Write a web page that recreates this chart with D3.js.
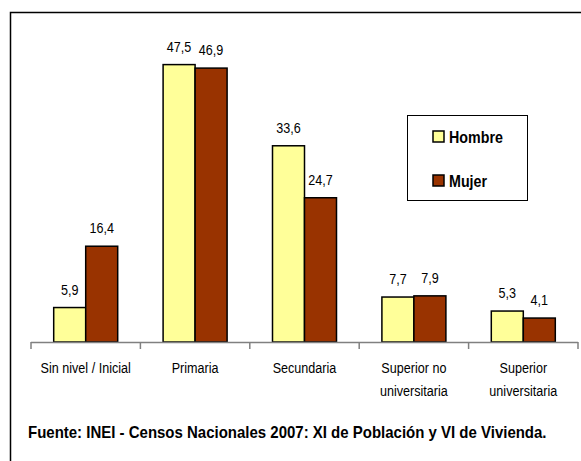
<!DOCTYPE html>
<html>
<head>
<meta charset="utf-8" />
<script src="https://cdn.jsdelivr.net/npm/d3@7"></script>
<style>
  body { margin: 0; background: #fff; }
  svg { display: block; }
  text { font-family: "Liberation Sans Narrow", "Arial Narrow", "Liberation Sans", Arial, sans-serif; fill: #000; }
  .bold { font-weight: bold; }
</style>
</head>
<body>
<svg id="chart" width="581" height="461"></svg>
<script>
// data
var categories = ["Sin nivel / Inicial", "Primaria", "Secundaria", "Superior no universitaria", "Superior universitaria"];
var catLines = [["Sin nivel / Inicial"], ["Primaria"], ["Secundaria"], ["Superior no", "universitaria"], ["Superior", "universitaria"]];
var series = ["Hombre", "Mujer"];
var hombre = [5.9, 47.5, 33.6, 7.7, 5.3];
var mujer = [16.4, 46.9, 24.7, 7.9, 4.1];
var colors = ["#ffff99", "#993300"];
var sourceText = "Fuente: INEI - Censos Nacionales 2007: XI de Población y VI de Vivienda.";

var narrow = 0.84; // fake Arial Narrow by squeezing glyphs

var svg = d3.select("#chart");

// narrow text helper: a group placed at x,y, squeezed horizontally
function ntext(parent, x, y, size, anchor, bold) {
  var g = parent.append("g")
    .attr("transform", "translate(" + x + "," + y + ") scale(" + narrow + ",1)");
  return g.append("text")
    .attr("text-anchor", anchor)
    .attr("class", bold ? "bold" : null)
    .style("font-size", size + "px");
}

// title is cut off by the top edge, only descenders show
ntext(svg, 300, -3, 15, "middle", true)
  .text("según nivel de educación alcanzado (porcentaje)");

// outer frame
svg.append("path")
  .attr("d", "M10.5,461 L10.5,12.5 L581,12.5")
  .attr("fill", "none")
  .attr("stroke", "#000")
  .attr("stroke-width", 1.5);

var x0 = d3.scaleBand().domain(categories).range([31, 578]).padding(0);
var groupW = 64;
var x1 = d3.scaleBand().domain(series)
  .range([(x0.bandwidth() - groupW) / 2, (x0.bandwidth() + groupW) / 2]);
var y = d3.scaleLinear().domain([0, 50]).range([342, 50]);

var rows = categories.map(function(c, i) {
  return { cat: c, vals: [hombre[i], mujer[i]] };
});

var groups = svg.append("g").selectAll("g")
  .data(rows).enter().append("g")
  .attr("transform", function(d) { return "translate(" + x0(d.cat) + ",0)"; });

groups.selectAll("rect")
  .data(function(d) { return d.vals.map(function(v, j) { return { s: series[j], v: v, j: j }; }); })
  .enter().append("rect")
  .attr("x", function(d) { return x1(d.s); })
  .attr("width", x1.bandwidth())
  .attr("y", function(d) { return y(d.v); })
  .attr("height", function(d) { return y(0) - y(d.v); })
  .attr("fill", function(d) { return colors[d.j]; })
  .attr("stroke", "#000")
  .attr("stroke-width", 1.5);

groups.each(function(d) {
  var g = d3.select(this);
  d.vals.forEach(function(v, j) {
    ntext(g, x1(series[j]) + x1.bandwidth() / 2, y(v) - 13, 15, "middle", false)
      .text(d3.format(".1f")(v).replace(".", ","));
  });
});

// category axis
var axis = svg.append("g");
axis.append("line")
  .attr("x1", x0.range()[0]).attr("x2", x0.range()[1])
  .attr("y1", y(0) + 0.5).attr("y2", y(0) + 0.5)
  .attr("stroke", "#808080").attr("stroke-width", 1.5);
var bounds = categories.map(function(c) { return x0(c); }).concat([x0.range()[1]]);
axis.selectAll("line.tick")
  .data(bounds).enter().append("line")
  .attr("class", "tick")
  .attr("x1", function(d) { return d; }).attr("x2", function(d) { return d; })
  .attr("y1", y(0)).attr("y2", y(0) + 7)
  .attr("stroke", "#808080").attr("stroke-width", 1.5);

categories.forEach(function(c, i) {
  catLines[i].forEach(function(l, k) {
    ntext(axis, x0(c) + x0.bandwidth() / 2, 373 + k * 23, 15, "middle", false).text(l);
  });
});

// legend
var legend = svg.append("g");
legend.append("rect")
  .attr("x", 407.5).attr("y", 115.5).attr("width", 120).attr("height", 85)
  .attr("fill", "#fff").attr("stroke", "#000").attr("stroke-width", 1);
series.forEach(function(s, i) {
  var ly = 131 + i * 44;
  legend.append("rect")
    .attr("x", 433).attr("y", ly).attr("width", 11).attr("height", 11)
    .attr("fill", colors[i]).attr("stroke", "#000").attr("stroke-width", 1.5);
  ntext(legend, 449, ly + 12, 17, "start", true).text(s);
});

// source note, squeezed to the reference width
var src = svg.append("g");
var srcText = src.append("text")
  .attr("class", "bold")
  .style("font-size", "17px")
  .text(sourceText);
var sw = srcText.node().getComputedTextLength();
src.attr("transform", "translate(28,438) scale(" + (519 / sw) + ",1)");
</script>
</body>
</html>
